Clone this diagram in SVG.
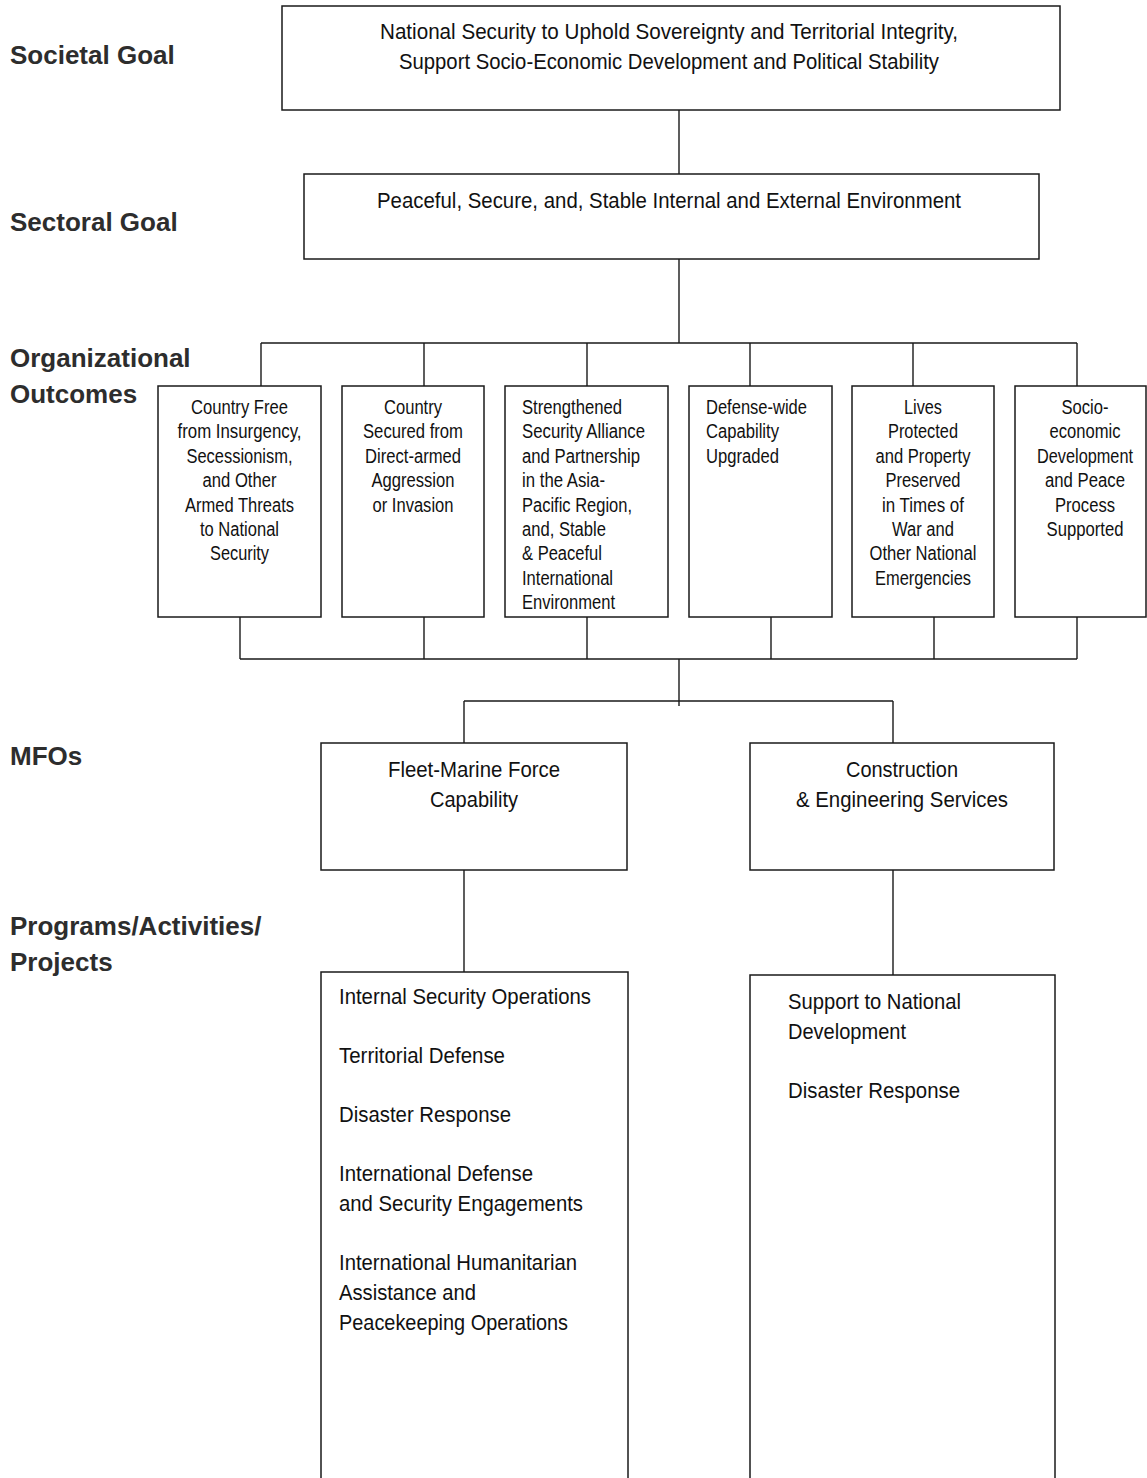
<svg xmlns="http://www.w3.org/2000/svg" width="1147" height="1478" viewBox="0 0 1147 1478">
<style>
.bg{fill:#fff}
.box{fill:#fff;stroke:#1a1a1a;stroke-width:1.5}
.con{fill:none;stroke:#1a1a1a;stroke-width:1.4}
.lbl{font-family:"Liberation Sans",Arial,sans-serif;font-weight:700;font-size:26px;fill:#2d2d2d}
.t{font-family:"Liberation Sans",Arial,sans-serif;font-size:22px;fill:#111}
.s{font-family:"Liberation Sans",Arial,sans-serif;font-size:20px;fill:#111}
.m{text-anchor:middle}
</style>
<rect class="bg" x="0" y="0" width="1147" height="1478"/>

<g id="labels">
<text class="lbl" x="10" y="64">Societal Goal</text>
<text class="lbl" x="10" y="231">Sectoral Goal</text>
<text class="lbl" x="10" y="367">Organizational</text>
<text class="lbl" x="10" y="403">Outcomes</text>
<text class="lbl" x="10" y="765">MFOs</text>
<text class="lbl" x="10" y="935">Programs/Activities/</text>
<text class="lbl" x="10" y="971">Projects</text>
</g>

<g id="connectors">
<path class="con" d="M679,110V174 M679,259V343 M261,343H1077 M261,343V386 M424,343V386 M587,343V386 M750,343V386 M913,343V386 M1077,343V386"/>
<path class="con" d="M240,617V659 M424,617V659 M587,617V659 M771,617V659 M934,617V659 M1077,617V659 M240,659H1077 M679,659V706 M464,701H893 M464,701V743 M893,701V743 M464,870V972 M893,870V975"/>
</g>

<g id="societal-goal">
<rect class="box" x="282" y="6" width="778" height="104"/>
<text class="t m" x="669" y="39" textLength="578" lengthAdjust="spacingAndGlyphs">National Security to Uphold Sovereignty and Territorial Integrity,</text>
<text class="t m" x="669" y="69" textLength="540" lengthAdjust="spacingAndGlyphs">Support Socio-Economic Development and Political Stability</text>
</g>

<g id="sectoral-goal">
<rect class="box" x="304" y="174" width="735" height="85"/>
<text class="t m" x="669" y="208" textLength="584" lengthAdjust="spacingAndGlyphs">Peaceful, Secure, and, Stable Internal and External Environment</text>
</g>

<g id="outcome-1">
<rect class="box" x="158" y="386" width="163" height="231"/>
<text class="s m" x="239.5" y="414" textLength="97" lengthAdjust="spacingAndGlyphs">Country Free</text>
<text class="s m" x="239.5" y="438.4" textLength="124" lengthAdjust="spacingAndGlyphs">from Insurgency,</text>
<text class="s m" x="239.5" y="462.8" textLength="106" lengthAdjust="spacingAndGlyphs">Secessionism,</text>
<text class="s m" x="239.5" y="487.2" textLength="74" lengthAdjust="spacingAndGlyphs">and Other</text>
<text class="s m" x="239.5" y="511.6" textLength="109" lengthAdjust="spacingAndGlyphs">Armed Threats</text>
<text class="s m" x="239.5" y="536" textLength="79" lengthAdjust="spacingAndGlyphs">to National</text>
<text class="s m" x="239.5" y="560.4" textLength="59" lengthAdjust="spacingAndGlyphs">Security</text>
</g>

<g id="outcome-2">
<rect class="box" x="342" y="386" width="142" height="231"/>
<text class="s m" x="413" y="414" textLength="58" lengthAdjust="spacingAndGlyphs">Country</text>
<text class="s m" x="413" y="438.4" textLength="100" lengthAdjust="spacingAndGlyphs">Secured from</text>
<text class="s m" x="413" y="462.8" textLength="96" lengthAdjust="spacingAndGlyphs">Direct-armed</text>
<text class="s m" x="413" y="487.2" textLength="83" lengthAdjust="spacingAndGlyphs">Aggression</text>
<text class="s m" x="413" y="511.6" textLength="81" lengthAdjust="spacingAndGlyphs">or Invasion</text>
</g>

<g id="outcome-3">
<rect class="box" x="505" y="386" width="163" height="231"/>
<text class="s" x="522" y="414" textLength="100" lengthAdjust="spacingAndGlyphs">Strengthened</text>
<text class="s" x="522" y="438.4" textLength="123" lengthAdjust="spacingAndGlyphs">Security Alliance</text>
<text class="s" x="522" y="462.8" textLength="118" lengthAdjust="spacingAndGlyphs">and Partnership</text>
<text class="s" x="522" y="487.2" textLength="83" lengthAdjust="spacingAndGlyphs">in the Asia-</text>
<text class="s" x="522" y="511.6" textLength="110" lengthAdjust="spacingAndGlyphs">Pacific Region,</text>
<text class="s" x="522" y="536" textLength="84" lengthAdjust="spacingAndGlyphs">and, Stable</text>
<text class="s" x="522" y="560.4" textLength="80" lengthAdjust="spacingAndGlyphs">&amp; Peaceful</text>
<text class="s" x="522" y="584.8" textLength="91" lengthAdjust="spacingAndGlyphs">International</text>
<text class="s" x="522" y="609.2" textLength="93" lengthAdjust="spacingAndGlyphs">Environment</text>
</g>

<g id="outcome-4">
<rect class="box" x="689" y="386" width="143" height="231"/>
<text class="s" x="706" y="414" textLength="101" lengthAdjust="spacingAndGlyphs">Defense-wide</text>
<text class="s" x="706" y="438.4" textLength="73" lengthAdjust="spacingAndGlyphs">Capability</text>
<text class="s" x="706" y="462.8" textLength="73" lengthAdjust="spacingAndGlyphs">Upgraded</text>
</g>

<g id="outcome-5">
<rect class="box" x="852" y="386" width="142" height="231"/>
<text class="s m" x="923" y="414" textLength="38" lengthAdjust="spacingAndGlyphs">Lives</text>
<text class="s m" x="923" y="438.4" textLength="70" lengthAdjust="spacingAndGlyphs">Protected</text>
<text class="s m" x="923" y="462.8" textLength="95" lengthAdjust="spacingAndGlyphs">and Property</text>
<text class="s m" x="923" y="487.2" textLength="75" lengthAdjust="spacingAndGlyphs">Preserved</text>
<text class="s m" x="923" y="511.6" textLength="82" lengthAdjust="spacingAndGlyphs">in Times of</text>
<text class="s m" x="923" y="536" textLength="62" lengthAdjust="spacingAndGlyphs">War and</text>
<text class="s m" x="923" y="560.4" textLength="107" lengthAdjust="spacingAndGlyphs">Other National</text>
<text class="s m" x="923" y="584.8" textLength="96" lengthAdjust="spacingAndGlyphs">Emergencies</text>
</g>

<g id="outcome-6">
<rect class="box" x="1015" y="386" width="131" height="231"/>
<text class="s m" x="1085" y="414" textLength="47" lengthAdjust="spacingAndGlyphs">Socio-</text>
<text class="s m" x="1085" y="438.4" textLength="71" lengthAdjust="spacingAndGlyphs">economic</text>
<text class="s m" x="1085" y="462.8" textLength="96" lengthAdjust="spacingAndGlyphs">Development</text>
<text class="s m" x="1085" y="487.2" textLength="80" lengthAdjust="spacingAndGlyphs">and Peace</text>
<text class="s m" x="1085" y="511.6" textLength="60" lengthAdjust="spacingAndGlyphs">Process</text>
<text class="s m" x="1085" y="536" textLength="77" lengthAdjust="spacingAndGlyphs">Supported</text>
</g>

<g id="mfo-1">
<rect class="box" x="321" y="743" width="306" height="127"/>
<text class="t m" x="474" y="777" textLength="172" lengthAdjust="spacingAndGlyphs">Fleet-Marine Force</text>
<text class="t m" x="474" y="807" textLength="88" lengthAdjust="spacingAndGlyphs">Capability</text>
</g>

<g id="mfo-2">
<rect class="box" x="750" y="743" width="304" height="127"/>
<text class="t m" x="902" y="777" textLength="112" lengthAdjust="spacingAndGlyphs">Construction</text>
<text class="t m" x="902" y="807" textLength="212" lengthAdjust="spacingAndGlyphs">&amp; Engineering Services</text>
</g>

<g id="pap-1">
<rect class="box" x="321" y="972" width="307" height="540"/>
<text class="t" x="339" y="1004" textLength="252" lengthAdjust="spacingAndGlyphs">Internal Security Operations</text>
<text class="t" x="339" y="1063" textLength="166" lengthAdjust="spacingAndGlyphs">Territorial Defense</text>
<text class="t" x="339" y="1122" textLength="172" lengthAdjust="spacingAndGlyphs">Disaster Response</text>
<text class="t" x="339" y="1181" textLength="194" lengthAdjust="spacingAndGlyphs">International Defense</text>
<text class="t" x="339" y="1211" textLength="244" lengthAdjust="spacingAndGlyphs">and Security Engagements</text>
<text class="t" x="339" y="1270" textLength="238" lengthAdjust="spacingAndGlyphs">International Humanitarian</text>
<text class="t" x="339" y="1300" textLength="137" lengthAdjust="spacingAndGlyphs">Assistance and</text>
<text class="t" x="339" y="1330" textLength="229" lengthAdjust="spacingAndGlyphs">Peacekeeping Operations</text>
</g>

<g id="pap-2">
<rect class="box" x="750" y="975" width="305" height="540"/>
<text class="t" x="788" y="1009" textLength="173" lengthAdjust="spacingAndGlyphs">Support to National</text>
<text class="t" x="788" y="1039" textLength="118" lengthAdjust="spacingAndGlyphs">Development</text>
<text class="t" x="788" y="1098" textLength="172" lengthAdjust="spacingAndGlyphs">Disaster Response</text>
</g>
</svg>
